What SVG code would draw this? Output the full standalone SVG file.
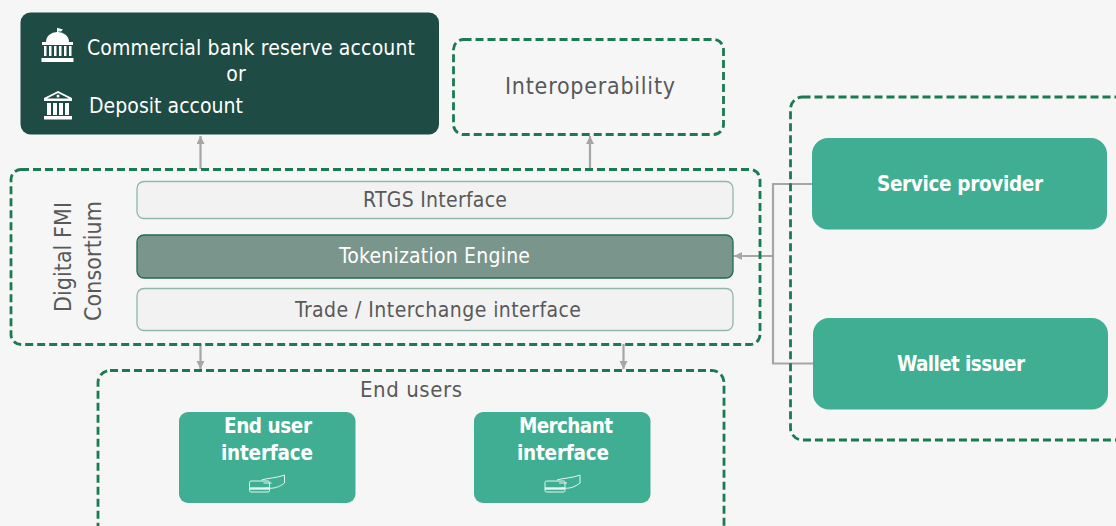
<svg xmlns="http://www.w3.org/2000/svg" width="1116" height="526" viewBox="0 0 1116 526">
<style>
text{font-family:"DejaVu Sans",sans-serif;font-stretch:condensed;text-anchor:middle}
.dash{fill:none;stroke:#1a7a52;stroke-width:2.8;stroke-dasharray:8 4}
.conn{fill:none;stroke:#a6a6a6;stroke-width:2.2}
.lt{fill:#f2f2f2;stroke:#8fb8a6;stroke-width:1.3}
.gr{fill:#40ae92;stroke:none}
.g{fill:#595959;font-size:21px}
.w{fill:#fff;font-size:21px}
.b{fill:#fff;font-size:20.500px;font-weight:700}
.ic{fill:none;stroke:#e8f5f0;stroke-width:1}
</style>
<defs>
<marker id="a" markerWidth="10" markerHeight="10" refX="8" refY="4" orient="auto" markerUnits="userSpaceOnUse"><path d="M0 0L8 4L0 8z" fill="#a6a6a6"/></marker>
<g id="card" class="ic"><rect x="0" y="6" width="20" height="11" rx="1.500"/><path d="M0 13.500H20" stroke-width="2.400"/><path d="M12 5C18 3 28 3 35 0V8C30 12 24 14 18 13H16"/><path d="M14 8H22"/></g>
</defs>
<rect width="1116" height="526" fill="#f6f6f6"/>
<g id="connectors">
<path class="conn" d="M200.500 169V136" marker-end="url(#a)"/>
<path class="conn" d="M590 169V136" marker-end="url(#a)"/>
<path class="conn" d="M200.500 344V369" marker-end="url(#a)"/>
<path class="conn" d="M623.500 344V369" marker-end="url(#a)"/>
<path class="conn" d="M812 184H773V256M813 363.500H773V256"/>
<path class="conn" d="M773 256H734" marker-end="url(#a)"/>
</g>
<g id="reserve-account">
<rect x="20.500" y="12.500" width="418.500" height="122" rx="10" fill="#1e4b44"/>
<g fill="#fff">
<path d="M57 28h1v4h-1z"/><path d="M58 28l5 1.500-1 1-1 1-3 0z"/><path d="M57.500 32a11 10 0 0 1 11.500 10h4v3H42v-3h4a11 10 0 0 1 11.500-10z"/>
<path d="M44 46h2.500v10H44zM49 46h2.500v10H49zM54 46h2.500v10H54zM59 46h2.500v10H59zM64 46h2.500v10H64zM69 46h2.500v10H69z"/>
<rect x="41.500" y="58" width="32" height="4"/>
<path d="M58 91L72 98V101H44V98zM58 93L47 98.500H69z" fill-rule="evenodd"/><circle cx="58" cy="96" r="1.500"/>
<path d="M47 103h4v12h-4zM53 103h4v12h-4zM59 103h4v12h-4zM65 103h4v12h-4z"/>
<rect x="44" y="116" width="28" height="3.500"/>
</g>
<text class="w" x="251" y="55" textLength="328">Commercial bank reserve account</text>
<text class="w" x="236" y="81">or</text>
<text class="w" x="166" y="113" textLength="154">Deposit account</text>
</g>
<g id="interoperability">
<rect class="dash" x="453.500" y="39.500" width="270" height="95" rx="10"/>
<text class="g" x="590" y="94" style="font-size:23px" textLength="170">Interoperability</text>
</g>
<g id="digital-fmi-consortium">
<rect class="dash" x="11" y="169.500" width="749" height="175" rx="10"/>
<text class="g" transform="translate(71 257) rotate(-90)" style="font-size:23px" textLength="110">Digital FMI</text>
<text class="g" transform="translate(100.500 261) rotate(-90)" style="font-size:23px" textLength="120">Consortium</text>
</g>
<g id="rtgs-interface">
<rect class="lt" x="137" y="181.500" width="596" height="37" rx="7"/>
<text class="g" x="435" y="207" textLength="144">RTGS Interface</text>
</g>
<g id="tokenization-engine">
<rect x="137" y="235" width="596" height="43" rx="7" fill="#7a958c" stroke="#1e6b50" stroke-width="1.300"/>
<text class="w" x="434.500" y="263" textLength="191">Tokenization Engine</text>
</g>
<g id="trade-interface">
<rect class="lt" x="137" y="288.500" width="596" height="42" rx="7"/>
<text class="g" x="438" y="317" textLength="286">Trade / Interchange interface</text>
</g>
<g id="end-users">
<rect class="dash" x="98" y="370.500" width="626" height="170" rx="12"/>
<text class="g" x="411" y="397" style="font-size:22px" textLength="102">End users</text>
</g>
<g id="end-user-interface">
<rect class="gr" x="179" y="412" width="176.500" height="91" rx="9"/>
<text class="b" x="268" y="433" textLength="88">End user</text>
<text class="b" x="267" y="460" textLength="92">interface</text>
<use href="#card" x="249.500" y="475"/>
</g>
<g id="merchant-interface">
<rect class="gr" x="474" y="412" width="176.500" height="91" rx="9"/>
<text class="b" x="566" y="433" textLength="94">Merchant</text>
<text class="b" x="563" y="460" textLength="92">interface</text>
<use href="#card" x="545" y="475"/>
</g>
<g id="providers-group">
<rect class="dash" x="790.500" y="97" width="360" height="343" rx="12"/>
</g>
<g id="service-provider">
<rect class="gr" x="812" y="138" width="295" height="91.500" rx="16"/>
<text class="b" x="960" y="191" textLength="166">Service provider</text>
</g>
<g id="wallet-issuer">
<rect class="gr" x="813" y="318" width="295" height="91.500" rx="16"/>
<text class="b" x="961" y="371" textLength="128">Wallet issuer</text>
</g>
</svg>
